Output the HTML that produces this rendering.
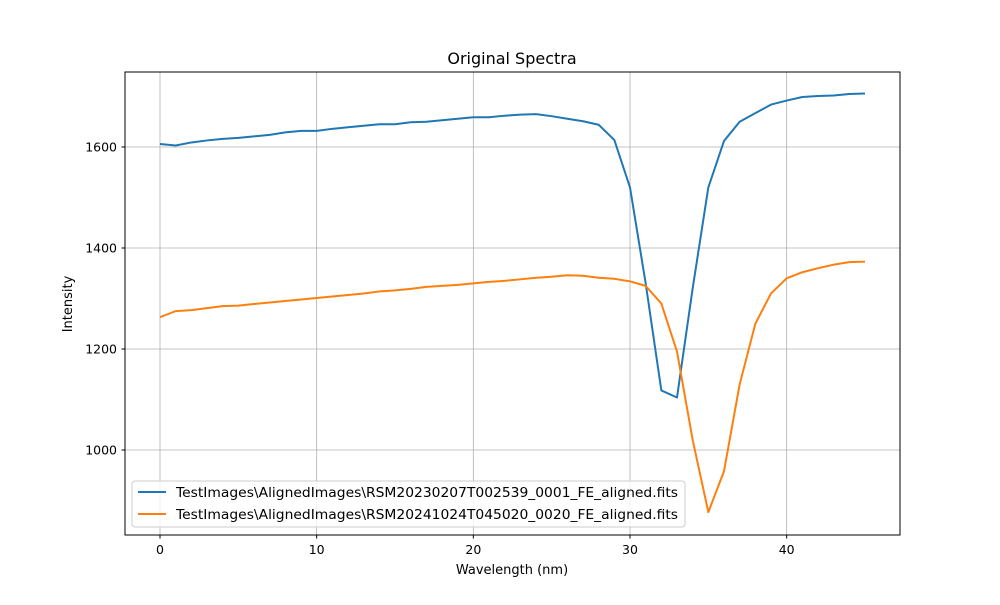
<!DOCTYPE html>
<html><head><meta charset="utf-8"><style>
body{margin:0;background:#fff;}
svg text{font-family:"DejaVu Sans","Liberation Sans",sans-serif;}
</style></head><body>
<svg id="chart" width="1000" height="600" xmlns="http://www.w3.org/2000/svg">
<rect width="1000" height="600" fill="#fff"/>
<g id="grid"></g>
<g id="series"></g>
<rect x="125" y="72" width="775" height="463" fill="none" stroke="#000" stroke-width="1"/>
<g id="axes"></g>
<text x="512" y="64" font-size="16" text-anchor="middle">Original Spectra</text>
<text x="512" y="574" font-size="13" text-anchor="middle">Wavelength (nm)</text>
<text x="72" y="304" font-size="13" text-anchor="middle" transform="rotate(-90 72 304)">Intensity</text>
<g id="legend">
<rect x="132" y="481" width="553" height="46" rx="3" fill="#fff" fill-opacity="0.8" stroke="#ccc"/>
<line x1="138" y1="492" x2="166" y2="492" stroke="#1f77b4" stroke-width="2"/>
<text x="176" y="497" font-size="13" textLength="502" lengthAdjust="spacingAndGlyphs">TestImages\AlignedImages\RSM20230207T002539_0001_FE_aligned.fits</text>
<line x1="138" y1="514" x2="166" y2="514" stroke="#ff7f0e" stroke-width="2"/>
<text x="176" y="519" font-size="13" textLength="502" lengthAdjust="spacingAndGlyphs">TestImages\AlignedImages\RSM20241024T045020_0020_FE_aligned.fits</text>
</g>
</svg>
<script>
const xTicks=[0,10,20,30,40];
const yTicks=[1000,1200,1400,1600];
const seriesA=[1606,1603,1609,1613,1616,1618,1621,1624,1629,1632,1632,1636,1639,1642,1645,1645,1649,1650,1653,1656,1659,1659,1662,1664,1665,1661,1656,1651,1644,1614,1520,1330,1118,1104,1320,1520,1612,1650,1667,1684,1692,1699,1701,1702,1705,1706];
const seriesB=[1263,1275,1277,1281,1285,1286,1289,1292,1295,1298,1301,1304,1307,1310,1314,1316,1319,1323,1325,1327,1330,1333,1335,1338,1341,1343,1346,1345,1341,1339,1334,1325,1290,1195,1020,877,958,1130,1250,1310,1340,1352,1360,1367,1372,1373];
const NS='http://www.w3.org/2000/svg';
function xs(v){return 160+v*(705/45);}
function ys(v){return 147+(1600-v)*(101/200);}
function mk(tag,attrs,parent){const e=document.createElementNS(NS,tag);for(const k in attrs)e.setAttribute(k,attrs[k]);parent.appendChild(e);return e;}
const grid=document.getElementById('grid'),axes=document.getElementById('axes'),ser=document.getElementById('series');
xTicks.forEach(t=>{const x=xs(t);
 const g=mk('line',{x1:x,x2:x,y1:72,y2:535,stroke:'#b0b0b0','stroke-width':0.8},grid);
 
 
 mk('line',{x1:x,x2:x,y1:535,y2:538.5,stroke:'#000'},axes);
 const tx=mk('text',{x:x,y:554,'font-size':12.5,'text-anchor':'middle'},axes);tx.textContent=t;
 
 
});
yTicks.forEach(t=>{const y=ys(t);
 const g=mk('line',{x1:125,x2:900,y1:y,y2:y,stroke:'#b0b0b0','stroke-width':0.8},grid);
 
 
 mk('line',{x1:121.5,x2:125,y1:y,y2:y,stroke:'#000'},axes);
 const tx=mk('text',{x:117,y:y+4.5,'font-size':12.5,'text-anchor':'end'},axes);tx.textContent=t;
 
 
});
[[seriesA,'#1f77b4','series-blue'],[seriesB,'#ff7f0e','series-orange']].forEach(([d,c,n])=>{
 const p=mk('polyline',{points:d.map((v,i)=>xs(i)+','+ys(v)).join(' '),fill:'none',stroke:c,'stroke-width':2,'stroke-linejoin':'round'},ser);
 
 
});
</script>
</body></html>
